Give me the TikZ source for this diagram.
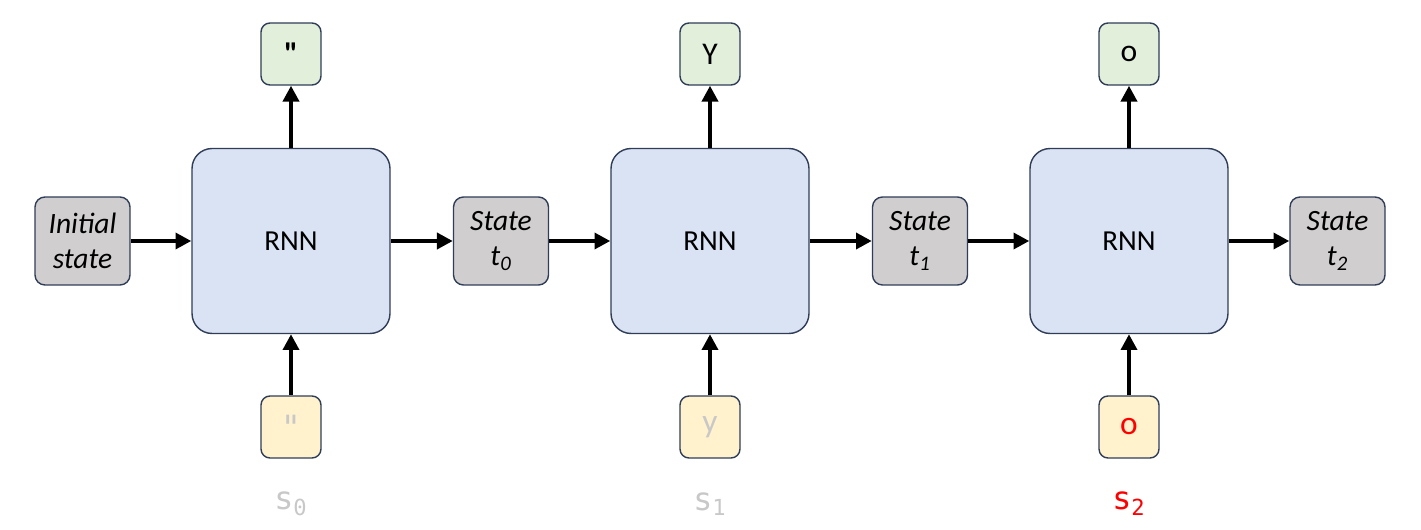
\documentclass[tikz,border=0pt]{standalone}
\usepackage{fontspec}
\setmainfont{Carlito}
\newfontfamily\quotefont{Carlito}[Ligatures=TeXOff]
\setmonofont{DejaVu Sans Mono}
\usetikzlibrary{arrows.meta}
\definecolor{edgeblue}{HTML}{2F3D58}
\definecolor{rnnblue}{HTML}{DAE3F3}
\definecolor{outgreen}{HTML}{E2EFDA}
\definecolor{inyellow}{HTML}{FFF2CC}
\definecolor{stategray}{HTML}{D0CECE}
\definecolor{fadedgray}{HTML}{C8C8C8}
\definecolor{hotred}{HTML}{FF0000}
\begin{document}
\begin{tikzpicture}[x=0.02cm, y=-0.02cm,
    rnn/.style={draw=edgeblue, fill=rnnblue, line width=0.8pt, rounded corners=0.4cm,
      minimum width=3.96cm, minimum height=3.7cm, inner sep=0,
      font=\fontsize{16.5}{19}\selectfont},
    statebox/.style={draw=edgeblue, fill=stategray, line width=0.8pt, rounded corners=0.2cm,
      minimum width=1.9cm, minimum height=1.76cm, inner sep=0, align=center,
      font=\fontsize{16.8}{20}\selectfont\itshape},
    outbox/.style={draw=edgeblue, fill=outgreen, line width=0.8pt, rounded corners=0.18cm,
      minimum width=1.2cm, minimum height=1.24cm, inner sep=0,
      font=\fontsize{18}{20}\selectfont},
    inbox/.style={draw=edgeblue, fill=inyellow, line width=0.8pt, rounded corners=0.18cm,
      minimum width=1.2cm, minimum height=1.24cm, inner sep=0,
      font=\fontsize{19}{21}\selectfont},
    flow/.style={line width=2.6pt, -{Triangle[length=9pt, width=9pt]}}]
  \useasboundingbox (0, 0) rectangle (1421, 530);

  % states and cells
  \node[statebox] (init) at (82.5, 241) {Initial\\state};
  \node[rnn] (rnn0) at (291, 241) {RNN};
  \node[statebox] (st0) at (501, 241) {State\\t\textsubscript{0}};
  \node[rnn] (rnn1) at (710, 241) {RNN};
  \node[statebox] (st1) at (920, 241) {State\\t\textsubscript{1}};
  \node[rnn] (rnn2) at (1129, 241) {RNN};
  \node[statebox] (st2) at (1337.5, 241) {State\\t\textsubscript{2}};

  % outputs
  \node[outbox] (out0) at (291, 54) {\quotefont\bfseries "};
  \node[outbox] (out1) at (710, 54) {Y};
  \node[outbox] (out2) at (1129, 54) {o};

  % inputs
  \node[inbox, text=fadedgray] (in0) at (291, 427) {\texttt{"}};
  \node[inbox, text=fadedgray] (in1) at (710, 427) {y};
  \node[inbox, text=hotred] (in2) at (1129, 427) {o};

  % sequence labels
  \node[text=fadedgray, font=\fontsize{18}{20}\selectfont\ttfamily] (lab0) at (291, 504) {s\textsubscript{0}};
  \node[text=fadedgray, font=\fontsize{18}{20}\selectfont\ttfamily] (lab1) at (710, 504) {s\textsubscript{1}};
  \node[text=hotred, font=\fontsize{18}{20}\selectfont\ttfamily] (lab2) at (1129, 504) {s\textsubscript{2}};

  % arrows
  \draw[flow] (init) -- (rnn0);
  \draw[flow] (rnn0) -- (st0);
  \draw[flow] (st0) -- (rnn1);
  \draw[flow] (rnn1) -- (st1);
  \draw[flow] (st1) -- (rnn2);
  \draw[flow] (rnn2) -- (st2);
  \draw[flow] (rnn0) -- (out0);
  \draw[flow] (rnn1) -- (out1);
  \draw[flow] (rnn2) -- (out2);
  \draw[flow] (in0) -- (rnn0);
  \draw[flow] (in1) -- (rnn1);
  \draw[flow] (in2) -- (rnn2);
\end{tikzpicture}
\end{document}
